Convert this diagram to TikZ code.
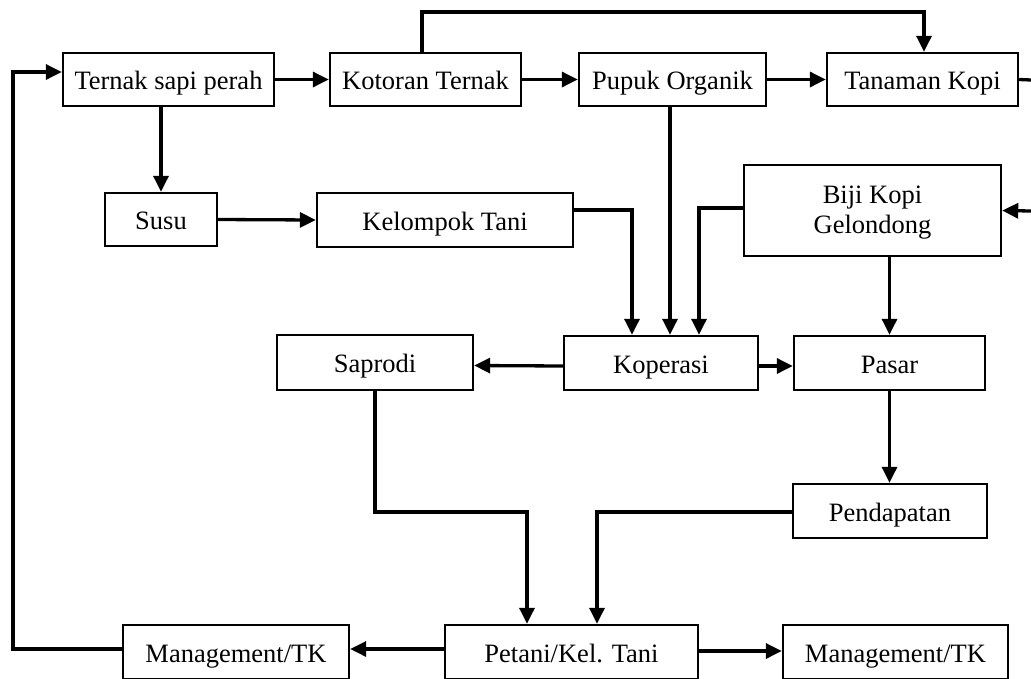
\documentclass[tikz,border=0pt]{standalone}
\usepackage{fontspec}
\setmainfont{Liberation Serif}
\usetikzlibrary{arrows.meta}
\begin{document}
\begin{tikzpicture}[x=1pt,y=-1pt,
  box/.style={draw,line width=2.4pt,rectangle,inner sep=0pt,align=center,
    font=\fontsize{26.5}{30}\selectfont,text height=23pt,text depth=3pt},
  conn/.style={line width=3.3pt},
  arr/.style={conn,-{Triangle[length=16pt,width=15pt]}}]
\useasboundingbox (0,0) rectangle (1031,678);
\clip (0,0) rectangle (1031,678);
\fill[white] (0,0) rectangle (1031,678);
% nodes
\node[box,minimum width=211pt,minimum height=53pt] (tern) at (168.5,79.5) {Ternak sapi perah};
\node[box,minimum width=191pt,minimum height=53pt] (koto) at (425.5,79.5) {Kotoran Ternak};
\node[box,minimum width=187pt,minimum height=53pt] (pupuk) at (672.5,79.5) {Pupuk Organik};
\node[box,minimum width=191pt,minimum height=53pt] (tanam) at (922.5,79.5) {Tanaman Kopi};
\node[box,minimum width=112pt,minimum height=53pt] (susu) at (161,219.5) {Susu};
\node[box,minimum width=256pt,minimum height=54pt] (kelt) at (445,220) {Kelompok Tani};
\node[box,minimum width=257pt,minimum height=91pt,text height=52pt,text depth=7pt] (biji) at (872.5,210.5) {Biji Kopi\\Gelondong};
\node[box,minimum width=196pt,minimum height=55pt] (sapro) at (375,362.5) {Saprodi};
\node[box,minimum width=194pt,minimum height=54pt] (koper) at (661,363) {Koperasi};
\node[box,minimum width=191pt,minimum height=54pt] (pasar) at (889.5,363) {Pasar};
\node[box,minimum width=194pt,minimum height=54pt] (penda) at (890,511) {Pendapatan};
\node[box,minimum width=226pt,minimum height=54pt] (mgl) at (236,652) {Management/TK};
\node[box,minimum width=253pt,minimum height=54pt] (petani) at (571.5,652) {Petani/Kel. Tani};
\node[box,minimum width=225pt,minimum height=54pt] (mgr) at (895.5,652) {Management/TK};
% free ends at the picture edge
\coordinate (outA) at (1031,80);
\coordinate (inB) at (1031,211);
% top row
\draw[arr] (tern.east) -- (koto.west);
\draw[arr] (koto.east) -- (pupuk.west);
\draw[arr] (pupuk.east) -- (tanam.west);
\draw[arr] ([xshift=-3.5pt]koto.north) -- ([xshift=-3.5pt]koto.north |- 0,12) -| ([xshift=1.5pt]tanam.north);
\draw[conn] (tanam.east) -- (outA);
\draw[arr] (inB) -- (biji.east);
% left branch
\draw[arr] (susu.north |- tern.south) -- (susu.north);
\draw[arr] (susu.east) -- (kelt.west);
\draw[arr] ([yshift=10pt]kelt.east) -| ([xshift=-29pt]koper.north);
\draw[arr] ([xshift=9pt]koper.north |- pupuk.south) -- ([xshift=9pt]koper.north);
\draw[arr] ([yshift=2.5pt]biji.west) -| ([xshift=38pt]koper.north);
\draw[arr] (pasar.north |- biji.south) -- (pasar.north);
% middle row
\draw[arr] ([yshift=-3pt]koper.west) -- ([yshift=-3pt]sapro.east);
\draw[arr] ([yshift=-3pt]koper.east) -- ([yshift=-3pt]pasar.west);
\draw[arr] (pasar.south) -- (pasar.south |- penda.north);
% to bottom
\draw[arr] ([yshift=-1pt]penda.west) -| ([xshift=25.5pt]petani.north);
\draw[arr] (sapro.south) -- (sapro.south |- 0,512) -| ([xshift=-44.5pt]petani.north);
\draw[arr] ([yshift=3pt]petani.west) -- ([yshift=3pt]mgl.east);
\draw[arr] ([yshift=1pt]petani.east) -- ([yshift=1pt]mgr.west);
\draw[arr] ([yshift=3pt]mgl.west) -| (13,72) -- ([yshift=7.5pt]tern.west);
\end{tikzpicture}
\end{document}
